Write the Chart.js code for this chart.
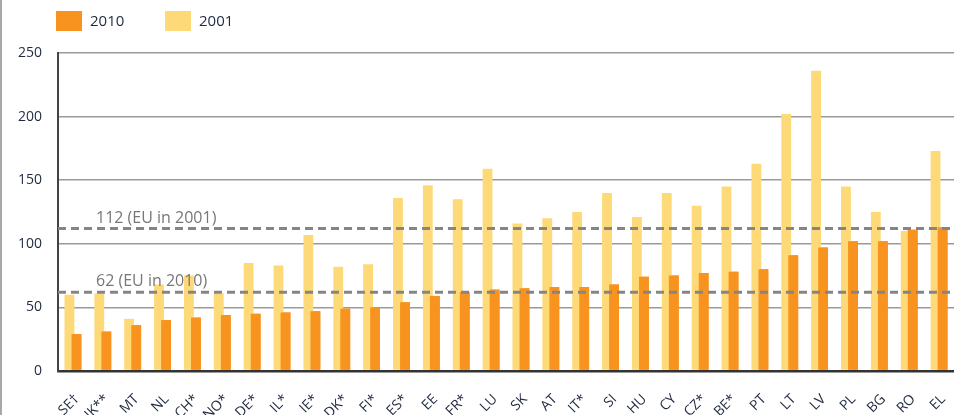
<!DOCTYPE html>
<html>
<head>
<meta charset="utf-8">
<script src="https://cdn.jsdelivr.net/npm/chart.js@4/dist/chart.umd.min.js"></script>
<style>
  body { margin: 0; background: #fff; }
  #wrap { position: relative; width: 954px; height: 415px; }
  #edge { position: absolute; left: 0; top: 0; width: 2px; height: 415px; background: #a8a8a8; }
</style>
</head>
<body>
<div id="wrap">
  <canvas id="rateChart"></canvas>
  <div id="edge"></div>
</div>
<script>
const countries = ["SE†", "UK**", "MT", "NL", "CH*", "NO*", "DE*", "IL*", "IE*", "DK*", "FI*", "ES*", "EE", "FR*", "LU",
  "SK", "AT", "IT*", "SI", "HU", "CY", "CZ*", "BE*", "PT", "LT", "LV", "PL", "BG", "RO", "EL"];
const values2010 = [29, 31, 36, 40, 42, 44, 45, 46, 47, 49, 50, 54, 59, 62, 64,
  65, 66, 66, 68, 74, 75, 77, 78, 80, 91, 97, 102, 102, 111, 113];
const values2001 = [60, 61, 41, 68, 75, 61, 85, 83, 107, 82, 84, 136, 146, 135, 159,
  116, 120, 125, 140, 121, 140, 130, 145, 163, 202, 236, 145, 125, 110, 173];
const yTicks = [0, 50, 100, 150, 200, 250];
const euValues = [112, 62];
const euLabels = ["112 (EU in 2001)", "62 (EU in 2010)"];

const ORANGE = "#f7931e";
const YELLOW = "#fed977";
const FONT = "'Open Sans', 'Noto Sans', sans-serif";
const TEXT = "#1f2a40";

// 2010 bars sit in front of the 2001 bars
const orangeOnTop = {
  id: "orangeOnTop",
  afterDatasetsDraw(chart) {
    const area = chart.chartArea;
    const ctx = chart.ctx;
    ctx.save();
    ctx.beginPath();
    ctx.rect(area.left, area.top, area.right - area.left, area.bottom - area.top);
    ctx.clip();
    chart.getDatasetMeta(1).controller.draw();
    ctx.restore();

    // EU reference lines
    const y = chart.scales.y;
    ctx.save();
    euValues.forEach(function (v, i) {
      const py = y.getPixelForValue(v);
      ctx.setLineDash([8, 5]);
      ctx.lineWidth = 3;
      ctx.strokeStyle = "#858585";
      ctx.beginPath();
      ctx.moveTo(area.left, py);
      ctx.lineTo(area.right, py);
      ctx.stroke();
      ctx.setLineDash([]);
      ctx.fillStyle = "#777";
      ctx.font = "16px " + FONT;
      ctx.textBaseline = "alphabetic";
      ctx.textAlign = "left";
      ctx.fillText(euLabels[i], area.left + 38, py - 6);
    });
    ctx.restore();
  },
};

// legend drawn top left: 2010 first, then 2001
const topLegend = {
  id: "topLegend",
  afterDraw(chart) {
    const ctx = chart.ctx;
    const items = [1, 0];
    const xs = [56, 165];
    ctx.save();
    ctx.font = "15px " + FONT;
    ctx.textBaseline = "middle";
    ctx.textAlign = "left";
    items.forEach(function (idx, i) {
      const ds = chart.data.datasets[idx];
      ctx.fillStyle = ds.backgroundColor;
      ctx.fillRect(xs[i], 11, 26, 20);
      ctx.fillStyle = TEXT;
      ctx.fillText(ds.label, xs[i] + 34, 22);
    });
    ctx.restore();
  },
};

const ctx = document.getElementById("rateChart").getContext("2d");
const rateChart = new Chart(ctx, {
  type: "bar",
  data: {
    labels: countries,
    datasets: [
      {
        label: "2001",
        data: values2001,
        backgroundColor: YELLOW,
        categoryPercentage: 0.47,
        barPercentage: 1.4,
      },
      {
        label: "2010",
        data: values2010,
        backgroundColor: ORANGE,
        categoryPercentage: 0.47,
        barPercentage: 1.4,
      },
    ],
  },
  options: {
    responsive: true,
    maintainAspectRatio: false,
    animation: false,
    layout: {
      padding: { top: 53, left: 0, right: 0, bottom: 0 },
    },
    plugins: {
      legend: { display: false },
      tooltip: { enabled: false },
    },
    scales: {
      x: {
        grid: { display: false },
        border: { display: false },
        ticks: {
          color: TEXT,
          font: { family: FONT, size: 14 },
          maxRotation: 45,
          minRotation: 45,
          autoSkip: false,
          padding: 12,
          labelOffset: 4,
        },
        afterFit(axis) {
          axis.height = 44;
          axis.paddingLeft = 0;
          axis.paddingRight = 0;
        },
      },
      y: {
        min: 0,
        max: 250,
        afterBuildTicks(axis) {
          axis.ticks = yTicks.map((v) => ({ value: v }));
        },
        grid: {
          drawTicks: false,
          color: (c) => (c.tick && c.tick.value === 0 ? "#333" : "#9a9a9a"),
          lineWidth: (c) => (c.tick && c.tick.value === 0 ? 2.5 : 1.5),
        },
        border: { color: "#444", width: 2 },
        ticks: {
          color: TEXT,
          font: { family: FONT, size: 14 },
          padding: 16,
        },
        afterFit(axis) {
          axis.width = 58;
        },
      },
    },
  },
  plugins: [orangeOnTop, topLegend],
});
</script>
</body>
</html>
